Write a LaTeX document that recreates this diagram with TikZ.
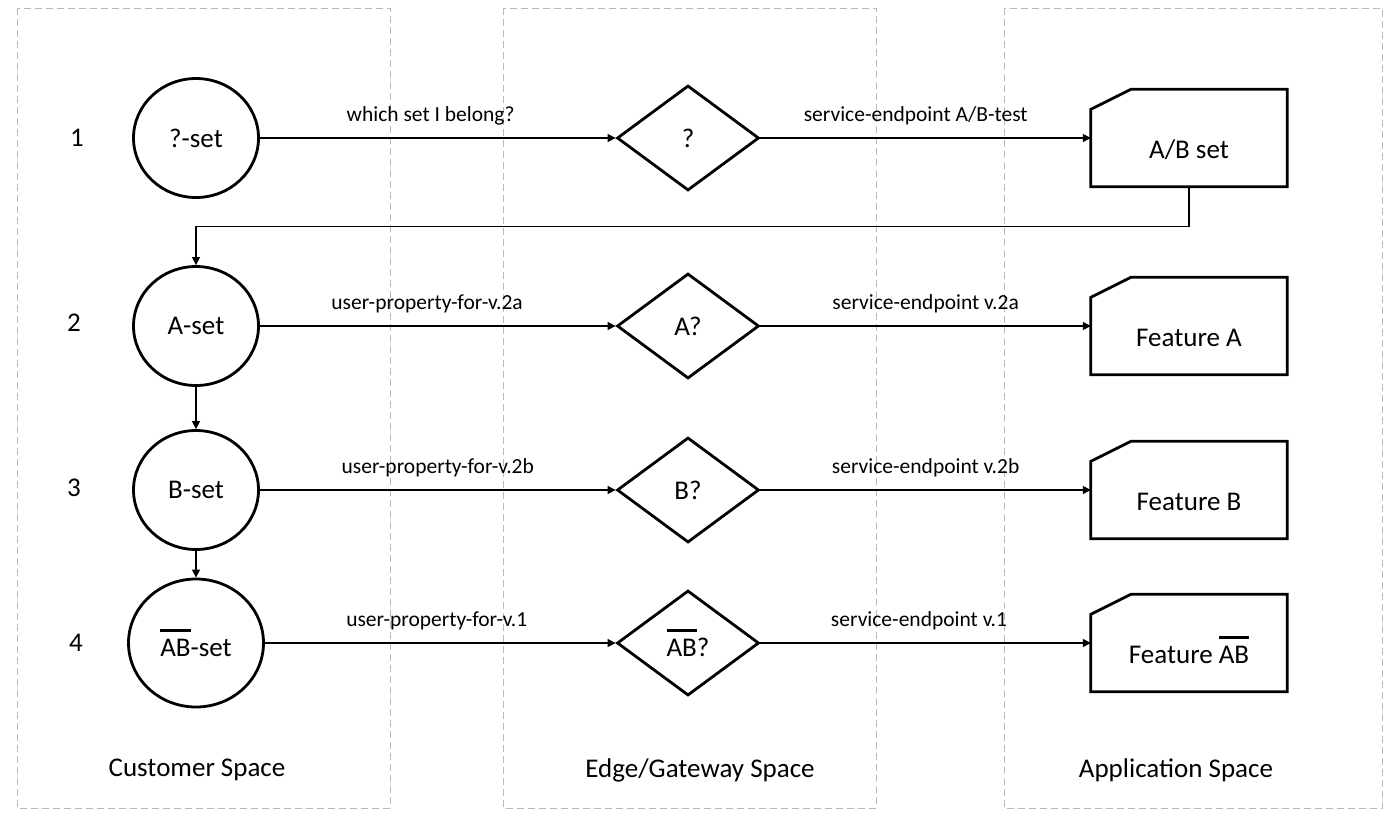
\documentclass[tikz,border=0pt]{standalone}
\usepackage{fontspec}
\setmainfont{Carlito}
\usetikzlibrary{shapes.geometric,positioning,arrows.meta}

\newcommand{\bigtxt}{\fontsize{27}{32}\selectfont}
\newcommand{\smalltxt}{\fontsize{21.5}{25}\selectfont}
\newcommand{\nAB}{\leavevmode\rlap{\rule[0.9em]{1.12em}{0.11em}}AB}

\tikzset{
	space/.style={draw=gray!55,line width=1pt,dash pattern=on 7pt off 4pt},
	setnode/.style={ellipse,draw,line width=2.8pt,minimum width=125pt,minimum height=119pt,inner sep=0pt},
	gate/.style={diamond,draw,line width=2.8pt,minimum width=142pt,minimum height=105pt,inner sep=0pt},
	feat/.style={minimum width=196pt,minimum height=97pt,inner sep=0pt,text height=44pt,text depth=4pt},
	lbl/.style={font=\smalltxt,inner sep=0pt,above=12pt},
	edge/.style={->,line width=1.4pt},
}

\begin{document}
\begin{tikzpicture}[x=1pt,y=-1pt,font=\bigtxt,>={Triangle[length=8pt,width=8pt]}]
		\useasboundingbox (0,0) rectangle (1400,817);

		%spaces
		\draw[space] (17,8) rectangle (390,808);
		\draw[space] (503,8) rectangle (876,808);
		\draw[space] (1004,8) rectangle (1382,808);

		\node (cs) at (197,770) {Customer Space};
		\node (es) at (700,770) {Edge/Gateway Space};
		\node (as) at (1176,770) {Application Space};

		%row numbers
		\node (n1) at (77,138) {1};
		\node (n2) at (74,323) {2};
		\node (n3) at (74,488) {3};
		\node (n4) at (76,643) {4};

		%sets
		\node[setnode] (s1) at (196,138) {?-set};
		\node[setnode] (s2) at (196,326) {A-set};
		\node[setnode] (s3) at (196,490) {B-set};
		\node[setnode,minimum width=135pt,minimum height=128pt] (s4) at (196,643) {\nAB-set};

		%gates
		\node[gate] (g1) at (688,138) {?};
		\node[gate] (g2) at (688,326) {A?};
		\node[gate] (g3) at (688,490) {B?};
		\node[gate] (g4) at (688,643) {\nAB?};

		%features
		\node[feat] (f1) at (1189,138) {A/B set};
		\node[feat] (f2) at (1189,326) {Feature A};
		\node[feat] (f3) at (1189,490) {Feature B};
		\node[feat] (f4) at (1189,643) {Feature \nAB};
		\foreach \f in {f1,f2,f3,f4}
			\draw[line width=2.8pt] ([yshift=-20pt]\f.north west) -- ([xshift=40pt]\f.north west)
				-- (\f.north east) -- (\f.south east) -- (\f.south west) -- cycle;

		%row edges
		\draw[edge] (s1) -- (g1) node[lbl,pos=.48]{which set I belong?};
		\draw[edge] (g1) -- (f1) node[lbl,pos=.47]{service-endpoint A/B-test};
		\draw[edge] (s2) -- (g2) node[lbl,pos=.47]{user-property-for-v.2a};
		\draw[edge] (g2) -- (f2) node[lbl,midway]{service-endpoint v.2a};
		\draw[edge] (s3) -- (g3) node[lbl,midway]{user-property-for-v.2b};
		\draw[edge] (g3) -- (f3) node[lbl,midway]{service-endpoint v.2b};
		\draw[edge] (s4) -- (g4) node[lbl,pos=.49]{user-property-for-v.1};
		\draw[edge] (g4) -- (f4) node[lbl,pos=.48]{service-endpoint v.1};

		%down edges
		\draw[edge] (f1.south) -- ++(0,40) -| (s2.north);
		\draw[edge] (s2) -- (s3);
		\draw[edge] (s3) -- (s4);
	\end{tikzpicture}
\end{document}
